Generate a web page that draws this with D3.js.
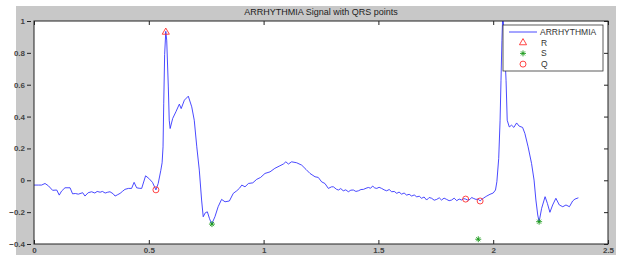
<!DOCTYPE html>
<html>
<head>
<meta charset="utf-8">
<script src="https://cdn.jsdelivr.net/npm/d3@7"></script>
<style>
  body { margin: 0; background: #fff; }
  svg { display: block; font-family: "Liberation Sans", Arial, sans-serif; }
  .tick-label { font-size: 8px; fill: #444; font-weight: bold; }
</style>
</head>
<body>
<div id="chart"></div>
<script>
// signal samples (time in s, amplitude)
const signalT = [0, 0.02, 0.033, 0.048, 0.063, 0.081, 0.099, 0.11, 0.12, 0.135, 0.157, 0.168, 0.18, 0.193, 0.212,
  0.222, 0.236, 0.251, 0.265, 0.275, 0.288, 0.298, 0.31, 0.321, 0.331, 0.345, 0.353, 0.365, 0.375, 0.385,
  0.396, 0.411, 0.425, 0.436, 0.447, 0.458, 0.469, 0.486, 0.5, 0.516, 0.531, 0.541, 0.552, 0.558, 0.562,
  0.565, 0.569, 0.574, 0.578, 0.585, 0.589, 0.593, 0.604, 0.618, 0.633, 0.641, 0.655, 0.672, 0.687, 0.698,
  0.709, 0.72, 0.73, 0.737, 0.746, 0.755, 0.764, 0.774, 0.788, 0.802, 0.817, 0.832, 0.851, 0.868, 0.883,
  0.895, 0.905, 0.919, 0.934, 0.953, 0.97, 0.987, 1.006, 1.028, 1.049, 1.071, 1.086, 1.097, 1.108, 1.122,
  1.144, 1.166, 1.185, 1.202, 1.224, 1.238, 1.253, 1.267, 1.282, 1.296, 1.304, 1.318, 1.326, 1.336, 1.347,
  1.358, 1.369, 1.38, 1.391, 1.402, 1.413, 1.424, 1.435, 1.446, 1.456, 1.466, 1.475, 1.484, 1.493, 1.503,
  1.514, 1.525, 1.536, 1.547, 1.558, 1.569, 1.58, 1.59, 1.601, 1.612, 1.623, 1.634, 1.645, 1.656, 1.667,
  1.678, 1.688, 1.699, 1.71, 1.721, 1.732, 1.743, 1.754, 1.765, 1.775, 1.786, 1.797, 1.808, 1.819, 1.83,
  1.841, 1.852, 1.863, 1.872, 1.88, 1.89, 1.899, 1.906, 1.913, 1.925, 1.935, 1.943, 1.95, 1.957, 1.965,
  1.972, 1.986, 2.0, 2.01, 2.016, 2.024, 2.03, 2.034, 2.038, 2.042, 2.048, 2.056, 2.061, 2.07, 2.08,
  2.09, 2.102, 2.113, 2.128, 2.138, 2.152, 2.167, 2.178, 2.186, 2.194, 2.2, 2.211, 2.226, 2.236, 2.247,
  2.259, 2.273, 2.288, 2.303, 2.317, 2.332, 2.346, 2.356, 2.371]
const signalV = [-0.03, -0.03, -0.03, -0.02, -0.035, -0.063, -0.061, -0.093, -0.068, -0.047, -0.047, -0.085, -0.083, -0.087, -0.078,
  -0.099, -0.078, -0.072, -0.08, -0.07, -0.075, -0.07, -0.08, -0.075, -0.072, -0.085, -0.099, -0.09, -0.082, -0.07,
  -0.057, -0.051, -0.051, -0.013, -0.047, -0.05, -0.051, 0.028, 0.012, -0.013, -0.06, -0.02, 0.06, 0.11, 0.21,
  0.48, 0.79, 0.935, 0.88, 0.586, 0.377, 0.325, 0.388, 0.43, 0.478, 0.45, 0.503, 0.528, 0.461, 0.377,
  0.21, 0.064, -0.124, -0.229, -0.204, -0.198, -0.239, -0.275, -0.229, -0.166, -0.12, -0.135, -0.13, -0.082, -0.066,
  -0.05, -0.03, -0.041, -0.02, -0.016, 0.006, 0.018, 0.043, 0.053, 0.075, 0.091, 0.102, 0.116, 0.102, 0.116,
  0.11, 0.095, 0.068, 0.043, 0.022, 0.018, -0.01, -0.02, -0.051, -0.041, -0.041, -0.057, -0.061, -0.052, -0.066,
  -0.06, -0.072, -0.062, -0.061, -0.07, -0.066, -0.058, -0.057, -0.05, -0.045, -0.05, -0.036, -0.048, -0.051, -0.044,
  -0.051, -0.06, -0.066, -0.058, -0.072, -0.07, -0.082, -0.074, -0.087, -0.08, -0.093, -0.088, -0.099, -0.092, -0.104,
  -0.1, -0.113, -0.105, -0.124, -0.108, -0.113, -0.125, -0.12, -0.11, -0.124, -0.112, -0.12, -0.128, -0.124, -0.112,
  -0.128, -0.118, -0.124, -0.115, -0.118, -0.125, -0.12, -0.108, -0.113, -0.12, -0.118, -0.13, -0.12, -0.113, -0.105,
  -0.099, -0.088, -0.08, -0.061, -0.009, 0.137, 0.377, 0.628, 0.879, 1.06, 0.879, 0.628, 0.377, 0.335, 0.346,
  0.332, 0.36, 0.34, 0.332, 0.294, 0.21, 0.106, 0.001, -0.124, -0.218, -0.26, -0.176, -0.103, -0.145, -0.201,
  -0.155, -0.113, -0.155, -0.166, -0.155, -0.166, -0.13, -0.118, -0.11]

// detected QRS points
const rT = [0.574]
const rV = [0.93]
const sT = [0.775, 1.935, 2.2]
const sV = [-0.275, -0.37, -0.26]
const qT = [0.531, 1.88, 1.943]
const qV = [-0.06, -0.118, -0.13]

const xTicks = [0, 0.5, 1, 1.5, 2, 2.5]
const yTicks = [-0.4, -0.2, 0, 0.2, 0.4, 0.6, 0.8, 1]
const legendLabels = ["ARRHYTHMIA", "R", "S", "Q"]
const titleText = "ARRHYTHMIA Signal with QRS points"

const width = 619, height = 255
const margin = { left: 34, top: 21, right: 11, bottom: 11 }
const innerW = width - margin.left - margin.right
const innerH = height - margin.top - margin.bottom

const svgOuter = d3.select("#chart").append("svg")
    .attr("width", width)
    .attr("height", height)

// figure background
svgOuter.append("rect")
    .attr("x", 16).attr("y", 6)
    .attr("width", 600).attr("height", height - 6)
    .attr("fill", "#c8c8c8")

const svg = svgOuter.append("g")
    .attr("transform", `translate(${margin.left},${margin.top})`)

const xScale = d3.scaleLinear().domain([0, 2.5]).range([0, innerW])
const yScale = d3.scaleLinear().domain([-0.4, 1]).range([innerH, 0])

svg.append("rect")
    .attr("width", innerW).attr("height", innerH)
    .attr("fill", "#fff")

svg.append("clipPath").attr("id", "plotClip")
    .append("rect").attr("width", innerW).attr("height", innerH)

// axes: inward ticks on bottom/top/right, small outside dashes on the left
const tickStyle = g => {
    g.select(".domain").remove()
    g.selectAll(".tick line").attr("stroke", "#222")
}
svg.append("g")
    .attr("transform", `translate(0,${innerH})`)
    .call(d3.axisBottom(xScale).tickValues(xTicks).tickSize(-4).tickPadding(3).tickFormat(d3.format("")))
    .call(tickStyle)
    .selectAll("text").attr("class", "tick-label")
svg.append("g")
    .call(d3.axisTop(xScale).tickValues(xTicks).tickSize(-4).tickFormat(""))
    .call(tickStyle)
svg.append("g")
    .attr("transform", "translate(-3,0)")
    .call(d3.axisLeft(yScale).tickValues(yTicks).tickSize(4).tickPadding(2).tickFormat(d3.format("")))
    .call(tickStyle)
    .selectAll("text").attr("class", "tick-label").attr("dy", "0.32em")
svg.append("g")
    .attr("transform", `translate(${innerW},0)`)
    .call(d3.axisRight(yScale).tickValues(yTicks).tickSize(-4).tickFormat(""))
    .call(tickStyle)

const plot = svg.append("g").attr("clip-path", "url(#plotClip)")

const signal = signalT.map((t, i) => ({ t: t, y: signalV[i] }))
const line = d3.line().x(d => xScale(d.t)).y(d => yScale(d.y))
plot.append("path")
    .datum(signal)
    .attr("d", line)
    .attr("fill", "none")
    .attr("stroke", "#2a2aff")
    .attr("stroke-width", 1)
    .attr("stroke-opacity", 0.85)

const triangle = d3.symbol().type(d3.symbolTriangle).size(22)
const zip = (ts, vs) => ts.map((t, i) => ({ t: t, y: vs[i] }))

svg.append("g").selectAll("path")
    .data(zip(rT, rV)).enter().append("path")
    .attr("d", triangle)
    .attr("transform", d => `translate(${xScale(d.t)},${yScale(d.y)})`)
    .attr("fill", "none").attr("stroke", "#ff3030").attr("stroke-width", 0.9)

const drawStar = (g, x, y) => {
    g.append("path")
        .attr("d", `M${x - 3},${y}H${x + 3}M${x},${y - 3}V${y + 3}M${x - 2},${y - 2}L${x + 2},${y + 2}M${x - 2},${y + 2}L${x + 2},${y - 2}`)
        .attr("stroke", "#1a9a1a").attr("stroke-width", 0.9)
}
const sGroup = svg.append("g")
zip(sT, sV).forEach(d => drawStar(sGroup, xScale(d.t), yScale(d.y)))

svg.append("g").selectAll("circle")
    .data(zip(qT, qV)).enter().append("circle")
    .attr("cx", d => xScale(d.t)).attr("cy", d => yScale(d.y)).attr("r", 3)
    .attr("fill", "none").attr("stroke", "#ff3030").attr("stroke-width", 0.9)

// box around the axes
svg.append("rect")
    .attr("width", innerW).attr("height", innerH)
    .attr("fill", "none").attr("stroke", "#222").attr("stroke-width", 1)

// title
svgOuter.append("text")
    .attr("x", margin.left + innerW / 2).attr("y", 15)
    .attr("text-anchor", "middle")
    .attr("font-size", 9).attr("fill", "#222")
    .text(titleText)

// legend
const lg = svgOuter.append("g").attr("transform", "translate(503,25)")
lg.append("rect")
    .attr("width", 100).attr("height", 46)
    .attr("fill", "#fff").attr("stroke", "#333").attr("stroke-width", 0.8)
const rowY = i => 7 + i * 10.7
lg.append("line")
    .attr("x1", 6).attr("x2", 34).attr("y1", rowY(0)).attr("y2", rowY(0))
    .attr("stroke", "#2a2aff").attr("stroke-opacity", 0.85)
lg.append("path").attr("d", triangle)
    .attr("transform", `translate(20,${rowY(1)})`)
    .attr("fill", "none").attr("stroke", "#ff3030").attr("stroke-width", 0.9)
drawStar(lg, 20, rowY(2))
lg.append("circle").attr("cx", 20).attr("cy", rowY(3)).attr("r", 3)
    .attr("fill", "none").attr("stroke", "#ff3030").attr("stroke-width", 0.9)
lg.selectAll("text.lbl")
    .data(legendLabels).enter().append("text")
    .attr("class", "lbl")
    .attr("x", d => d === "ARRHYTHMIA" ? 37 : 38)
    .attr("y", (d, i) => rowY(i))
    .attr("dy", "0.35em")
    .attr("font-size", 8.5).attr("fill", "#333")
    .text(d => d)
</script>
</body>
</html>
